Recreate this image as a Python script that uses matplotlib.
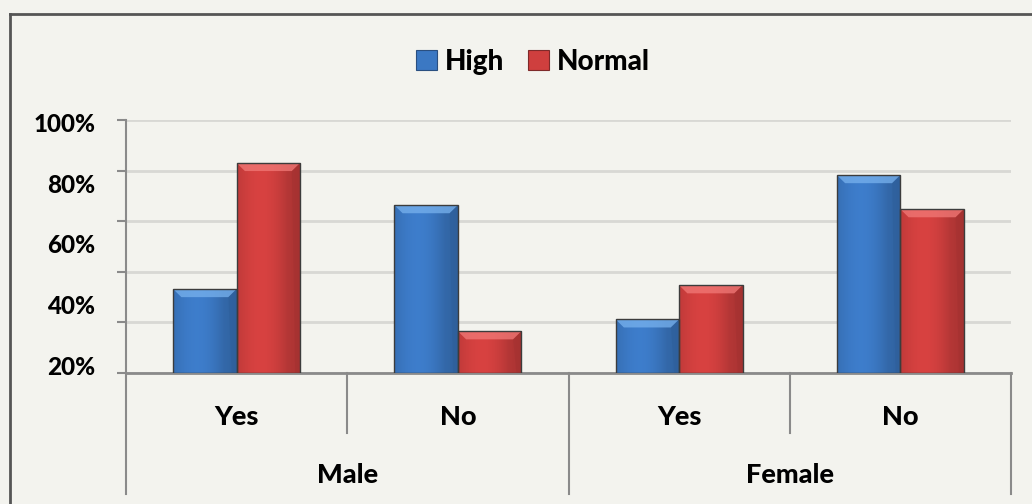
import numpy as np
import matplotlib
matplotlib.use("Agg")
import matplotlib.pyplot as plt
from matplotlib.patches import Rectangle, Polygon, Patch
from matplotlib.lines import Line2D
from matplotlib.transforms import blended_transform_factory

# ---- data -------------------------------------------------------------
groups = ["Male", "Female"]
subgroups = ["Yes", "No", "Yes", "No"]
series_names = ["High", "Normal"]
high_values = [33.1, 66.3, 21.1, 78.2]
normal_values = [83.0, 16.4, 34.6, 64.7]
ytick_labels = ["100%", "80%", "60%", "40%", "20%"]

# ---- style ------------------------------------------------------------
BG = "#F3F3EE"
BLUE = np.array([0x3B, 0x78, 0xC3]) / 255
RED = np.array([0xCF, 0x3F, 0x3E]) / 255
BLUE_TOP = "#78B2EE"
RED_TOP = "#F27A78"
EDGE = "#3C3C3C"
AXIS = "#8A8A8A"
GRID = "#D8D8D4"
FONT = "Lato"
WEIGHT = "black"

plt.rcParams["font.family"] = [FONT, "DejaVu Sans"]
plt.rcParams["font.weight"] = WEIGHT

fig = plt.figure(figsize=(10.32, 5.04), dpi=100, facecolor=BG)
ax = fig.add_axes([126 / 1032, 1 - 372.7 / 504, (1011 - 126) / 1032, 252.7 / 504])
ax.set_facecolor(BG)

n = len(subgroups)
x = np.arange(n)
width = 0.287


def shaded_bar(ax, x0, h, base, top_color):
    rect = Rectangle((x0, 0), width, h, facecolor="none", edgecolor=EDGE,
                     linewidth=1.0, zorder=4)
    ax.add_patch(rect)
    # horizontal shading across the bar face
    t = np.linspace(0, 1, 64)
    shade = 0.93 + 0.12 * np.sin(np.pi * np.clip(t * 1.25, 0, 1)) - 0.12 * t ** 3
    img = np.clip(base[None, :] * shade[:, None], 0, 1)[None, :, :]
    im = ax.imshow(img, extent=[x0, x0 + width, 0, h], aspect="auto",
                   interpolation="bilinear", zorder=3)
    im.set_clip_path(rect)
    # bevelled highlight at the top edge
    dx = width * 0.13
    dy = 3.2
    bevel = Polygon([(x0, h), (x0 + width, h), (x0 + width - dx, h - dy),
                     (x0 + dx, h - dy)], closed=True, facecolor=top_color,
                    edgecolor="none", alpha=0.75, zorder=3.5)
    ax.add_patch(bevel)
    # darker side bevel
    side = Polygon([(x0 + width, h), (x0 + width, 0), (x0 + width - dx * 0.6, 0),
                    (x0 + width - dx, h - dy)], closed=True,
                   facecolor=tuple(base * 0.78), edgecolor="none", alpha=0.45,
                   zorder=3.5)
    ax.add_patch(side)


for i in range(n):
    shaded_bar(ax, x[i] - width, high_values[i], BLUE, BLUE_TOP)
    shaded_bar(ax, x[i], normal_values[i], RED, RED_TOP)

ax.set_xlim(-0.5, n - 0.5)
ax.set_ylim(0, 100)

# gridlines and y axis
major = np.arange(0, 101, 20)
ax.set_yticks(major)
ax.set_yticklabels([])
ax.yaxis.grid(True, color=GRID, linewidth=2.0, zorder=0)
ax.set_axisbelow(True)
ax.tick_params(axis="y", which="major", direction="out", length=6.5,
               width=1.5, color=AXIS)
ax.set_yticks(np.linspace(99, 3, len(ytick_labels)), minor=True)
ax.set_yticklabels(ytick_labels, minor=True, fontsize=17.5, fontweight=WEIGHT)
ax.tick_params(axis="y", which="minor", length=0, pad=22)

ax.set_xticks([])
for s in ["top", "right"]:
    ax.spines[s].set_visible(False)
ax.spines["left"].set_color(AXIS)
ax.spines["left"].set_linewidth(1.5)
ax.spines["bottom"].set_color(AXIS)
ax.spines["bottom"].set_linewidth(2.0)

# two-level category axis
tr = blended_transform_factory(ax.transData, ax.transAxes)
inner_drop = -0.237
outer_drop = -0.479
for b in np.arange(-0.5, n, 1.0):
    outer = (int(b + 0.5) % 2 == 0)
    ax.add_line(Line2D([b, b], [0, outer_drop if outer else inner_drop],
                       transform=tr, color=AXIS, linewidth=1.5, clip_on=False))
for i, lab in enumerate(subgroups):
    ax.text(x[i], -0.175, lab, transform=tr, ha="center", va="center",
            fontsize=19.5, fontweight=WEIGHT)
for g, lab in enumerate(groups):
    ax.text(2 * g + 0.5, -0.405, lab, transform=tr, ha="center", va="center",
            fontsize=19.5, fontweight=WEIGHT)

# legend
handles = [Patch(facecolor=BLUE, edgecolor="#2A4F80", linewidth=0.8),
           Patch(facecolor=RED, edgecolor="#7E2A2A", linewidth=0.8)]
fig.legend(handles, series_names, loc="center", bbox_to_anchor=(0.5165, 0.877),
           ncol=2, frameon=False, handlelength=0.75, handleheight=0.75,
           handletextpad=0.3, columnspacing=0.85,
           prop={"size": 20, "weight": WEIGHT})

# outer frame (top and left edges)
fig.add_artist(Line2D([9.5 / 1032, 1], [1 - 14 / 504, 1 - 14 / 504],
                      transform=fig.transFigure, color="#555555", linewidth=2.0))
fig.add_artist(Line2D([9.5 / 1032, 9.5 / 1032], [0, 1 - 14 / 504],
                      transform=fig.transFigure, color="#555555", linewidth=2.0))

fig.savefig("out.png", dpi=100, facecolor=BG)
